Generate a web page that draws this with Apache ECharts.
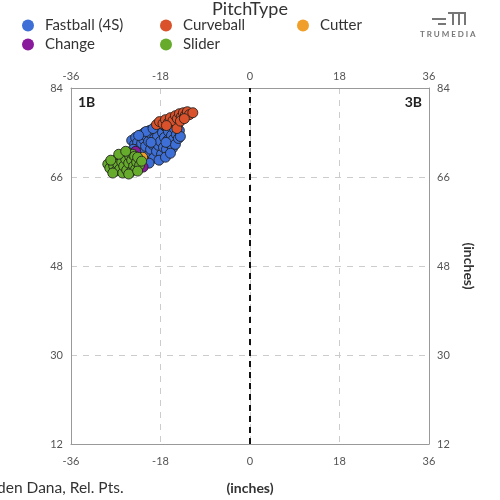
<!DOCTYPE html>
<html><head><meta charset="utf-8">
<script src="https://cdn.jsdelivr.net/npm/echarts@6/dist/echarts.min.js"></script>
<style>html,body{margin:0;padding:0;background:#fff}#c{width:500px;height:500px}</style>
</head><body><div id="c"></div>
<script>
const xTicks = [-36, -18, 0, 18, 36];
const yTicks = [12, 30, 48, 66, 84];
const seriesNames = ['Fastball (4S)', 'Curveball', 'Cutter', 'Change', 'Slider'];
const seriesColors = ['#3d6fd6', '#d9522b', '#f0a02a', '#8a1a9c', '#67ab2c'];

const fastball = [[-23.8,73.4],[-23.2,72.6],[-23.0,74.0],[-22.6,73.0],[-22.4,71.8],[-22.0,74.5],[-21.8,72.8],[-21.6,70.8],[-21.4,73.6],[-21.2,75.0],[-21.0,72.2],[-20.8,74.2],[-20.6,70.2],[-20.4,73.2],[-20.2,75.4],[-20.0,71.6],[-19.8,74.6],[-19.6,72.6],[-19.4,69.8],[-19.2,73.8],[-19.0,75.6],[-18.8,71.2],[-18.6,74.2],[-18.4,72.4],[-18.2,76.0],[-18.0,73.2],[-17.8,70.6],[-17.6,75.0],[-17.4,72.0],[-17.2,74.0],[-17.0,76.2],[-16.8,71.6],[-16.6,73.4],[-16.4,75.2],[-16.2,72.8],[-16.0,76.6],[-15.8,74.4],[-15.6,71.8],[-15.4,73.6],[-15.2,75.8],[-15.0,72.6],[-14.8,74.6],[-14.6,76.4],[-14.4,73.8],[-14.2,75.4],[-14.0,74.2],[-20.9,75.2],[-22.4,74.4],[-19.5,75.8],[-18.3,69.4],[-17.0,70.0],[-21.5,69.6],[-16.0,70.8],[-23.5,71.6],[-20.3,68.8],[-17.5,76.6],[-15.0,77.0],[-16.5,76.8],[-16.9,73.0],[-19.9,73.0]];
const curveball = [[-18.8,76.6],[-18.2,77.2],[-17.5,76.8],[-17.0,77.6],[-16.4,77.0],[-16.0,78.0],[-15.5,77.4],[-15.0,78.4],[-14.6,77.8],[-14.2,78.8],[-13.8,78.2],[-13.4,79.0],[-13.0,78.5],[-12.6,79.2],[-12.2,78.6],[-11.5,79.0],[-14.7,75.8],[-14.0,77.3],[-16.8,76.4],[-13.2,77.8]];
const cutter = [[-23.0,69.0],[-21.6,70.0],[-24.0,68.8]];
const change = [[-24.6,69.6],[-23.4,68.6],[-21.5,68.0],[-23.0,71.2],[-23.6,67.6]];
const slider = [[-28.6,68.6],[-28.2,67.8],[-27.8,69.2],[-27.4,68.2],[-27.0,67.2],[-26.8,69.6],[-26.6,68.6],[-26.2,67.6],[-26.0,70.2],[-25.8,69.0],[-25.6,66.8],[-25.4,68.2],[-25.2,70.8],[-25.0,69.6],[-24.8,67.4],[-24.6,71.0],[-24.4,68.8],[-24.2,70.2],[-24.0,67.0],[-23.8,69.4],[-23.6,70.6],[-23.4,68.2],[-23.2,70.2],[-23.0,67.6],[-22.8,69.0],[-22.6,70.0],[-22.2,68.4],[-21.8,69.2],[-27.6,66.8],[-26.4,70.6],[-25.0,71.2],[-24.4,66.6],[-22.6,67.2],[-28.0,69.4]];
const allData = [fastball, curveball, cutter, change, slider];
const seriesZ = [2, 3, 4, 4, 5];

const FONT = 'Lato, "Open Sans", sans-serif';
const chart = echarts.init(document.getElementById('c'), null, {renderer: 'canvas'});

const legendPos = [[22,18],[160,18],[297,18],[22,37],[160,37]];
const legends = seriesNames.map((n, i) => ({
  data: [n], left: legendPos[i][0], top: legendPos[i][1], icon: 'circle',
  itemWidth: 12, itemHeight: 12, padding: 0,
  itemStyle: {borderWidth: 0},
  textStyle: {fontSize: 15, color: '#333', fontFamily: FONT, padding: [0, 0, 0, 6]}
}));

const axisCommon = {
  type: 'value', interval: 18,
  axisLine: {show: true, onZero: false, lineStyle: {color: '#999', width: 1}},
  axisTick: {show: false},
  axisLabel: {color: '#555', fontSize: 11, fontFamily: FONT},
  splitLine: {show: true, lineStyle: {color: '#ccc', type: [6, 6], width: 1}}
};

const series = seriesNames.map((n, i) => ({
  name: n, type: 'scatter', data: allData[i], symbolSize: 10, z: seriesZ[i],
  itemStyle: {color: seriesColors[i], borderColor: 'rgba(30,30,30,0.85)', borderWidth: 1, opacity: 1}
}));
series[0].markLine = {
  silent: true, symbol: ['none', 'none'], label: {show: false},
  lineStyle: {color: '#111', type: [6, 5], width: 2},
  data: [{xAxis: 0}]
};

chart.setOption({
  backgroundColor: '#fff',
  animation: false,
  title: {text: 'PitchType', left: 'center', top: 0, padding: 0, textStyle: {fontSize: 18, fontWeight: 'normal', color: '#333', fontFamily: FONT}},
  legend: legends,
  grid: {left: 71, right: 71, top: 88, bottom: 56},
  xAxis: [
    Object.assign({}, axisCommon, {min: xTicks[0], max: xTicks[xTicks.length-1], position: 'bottom',
      axisLabel: Object.assign({}, axisCommon.axisLabel, {margin: 12}),
      name: '(inches)', nameLocation: 'middle', nameGap: 37,
      nameTextStyle: {fontSize: 14, fontWeight: 'bold', color: '#333', fontFamily: FONT}}),
    Object.assign({}, axisCommon, {min: xTicks[0], max: xTicks[xTicks.length-1], position: 'top', splitLine: {show: false},
      axisLabel: Object.assign({}, axisCommon.axisLabel, {margin: 6})})
  ],
  yAxis: [
    Object.assign({}, axisCommon, {min: yTicks[0], max: yTicks[yTicks.length-1], position: 'left'}),
    Object.assign({}, axisCommon, {min: yTicks[0], max: yTicks[yTicks.length-1], position: 'right', splitLine: {show: false},
      name: '(inches)', nameLocation: 'middle', nameGap: 33, nameRotate: -90,
      nameTextStyle: {fontSize: 14, fontWeight: 'bold', color: '#333', fontFamily: FONT}})
  ],
  series: series,
  graphic: [
    {type: 'text', left: 78, top: 95, style: {text: '1B', font: 'bold 14px ' + FONT, fill: '#222'}},
    {type: 'text', right: 78, top: 95, style: {text: '3B', font: 'bold 14px ' + FONT, fill: '#222'}},
    {type: 'text', left: -26, top: 480, style: {text: 'Braden Dana, Rel. Pts.', font: '15.5px ' + FONT, fill: '#333'}},
    {type: 'group', left: 432, top: 12, children: [
      {type: 'rect', shape: {x: 0, y: 6, width: 14, height: 2}, style: {fill: '#777'}},
      {type: 'rect', shape: {x: 6, y: 11, width: 8, height: 2}, style: {fill: '#777'}},
      {type: 'rect', shape: {x: 16, y: 0, width: 18, height: 2}, style: {fill: '#777'}},
      {type: 'rect', shape: {x: 20, y: 0, width: 2, height: 13}, style: {fill: '#777'}},
      {type: 'rect', shape: {x: 26, y: 0, width: 2, height: 13}, style: {fill: '#777'}},
      {type: 'rect', shape: {x: 32, y: 0, width: 2, height: 13}, style: {fill: '#777'}}
    ]},
    {type: 'text', left: 420, top: 30, style: {text: 'T R U M E D I A', font: 'bold 8px ' + FONT, fill: '#777'}}
  ]
});
</script></body></html>
